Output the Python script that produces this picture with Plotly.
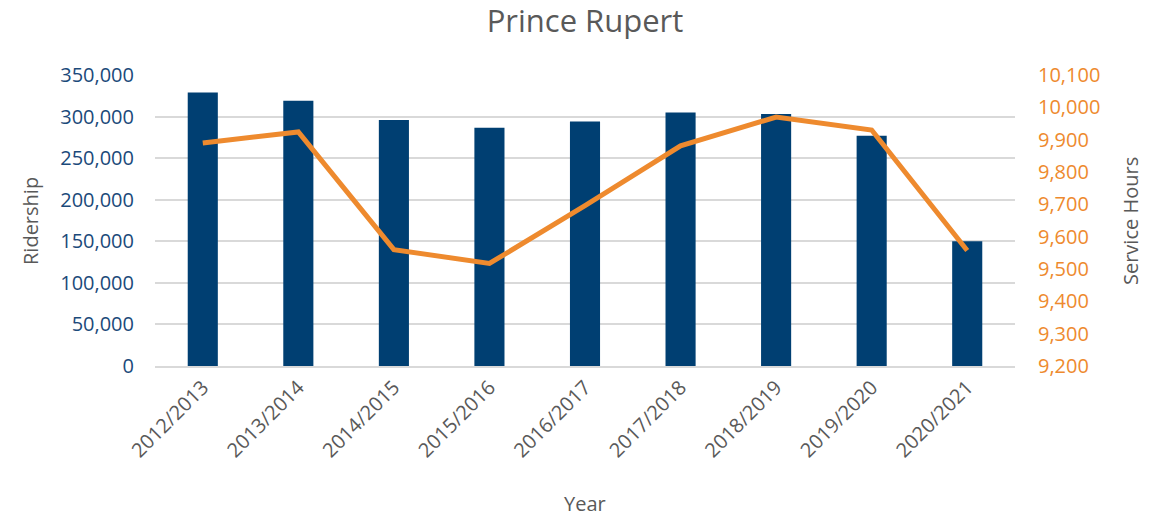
import plotly.graph_objects as go

years = ["2012/2013", "2013/2014", "2014/2015", "2015/2016", "2016/2017",
         "2017/2018", "2018/2019", "2019/2020", "2020/2021"]
ridership = [329000, 319000, 296000, 286500, 294000, 305000, 303000, 277000, 150000]
service_hours = [9890, 9924, 9560, 9517, 9696, 9881, 9970, 9930, 9557]

left_ticks = [0, 50000, 100000, 150000, 200000, 250000, 300000, 350000]
right_ticks = [9200, 9300, 9400, 9500, 9600, 9700, 9800, 9900, 10000, 10100]

font_family = "Open Sans, Noto Sans, sans-serif"
navy = "#003F72"
orange = "#EE8A2E"
grey = "#595959"

L, R, T, B = 155, 151, 75, 150
W, H = 1166, 516
PW, PH = W - L - R, H - T - B

fig = go.Figure()
fig.add_trace(go.Bar(x=years, y=ridership, marker=dict(color=navy, line=dict(width=0)),
                     name="Ridership", yaxis="y"))
fig.add_trace(go.Scatter(x=years, y=service_hours, mode="lines",
                         line=dict(color=orange, width=5), name="Service Hours", yaxis="y2"))

fig.update_layout(
    width=W, height=H,
    margin=dict(l=L, r=R, t=T, b=B),
    paper_bgcolor="white", plot_bgcolor="white",
    showlegend=False,
    bargap=0.685,
    title=dict(text="Prince Rupert", x=0.5, xanchor="center", xref="paper",
               yref="container", y=1 - 21 / H, yanchor="middle",
               font=dict(family=font_family, size=31, color=grey)),
    font=dict(family=font_family),
    xaxis=dict(tickangle=-45, tickfont=dict(size=20, color=grey),
               showgrid=False, showline=True, linecolor="#D9D9D9", linewidth=1.5,
               ticks=""),
    yaxis=dict(range=[0, 350000], tickvals=left_ticks,
               ticktext=[f"{v:,}" for v in left_ticks],
               tickfont=dict(size=20, color="#1B4A7A"),
               showgrid=True, gridcolor="#D9D9D9", gridwidth=1.5, zeroline=False,
               ticks="", ticklabelstandoff=20),
    yaxis2=dict(range=[9200, 10100], tickvals=right_ticks,
                ticktext=[f"{v:,}" for v in right_ticks],
                overlaying="y", side="right",
                tickfont=dict(size=20, color=orange),
                showgrid=False, zeroline=False, ticks="", ticklabelstandoff=22),
    annotations=[
        dict(text="Ridership", xref="paper", yref="paper",
             x=(30 - L) / PW, y=(H - B - 221 - T) / PH if False else (H - B - 221) / PH,
             textangle=-90, showarrow=False, xanchor="center", yanchor="middle",
             font=dict(size=20, color=grey)),
        dict(text="Service Hours", xref="paper", yref="paper",
             x=(1130 - L) / PW, y=(H - B - 221) / PH,
             textangle=-90, showarrow=False, xanchor="center", yanchor="middle",
             font=dict(size=20, color=grey)),
        dict(text="Year", xref="paper", yref="paper",
             x=(585 - L) / PW, y=-(503 - (H - B)) / PH,
             showarrow=False, xanchor="center", yanchor="middle",
             font=dict(size=20, color=grey)),
    ],
)

fig.write_html("out.html")
